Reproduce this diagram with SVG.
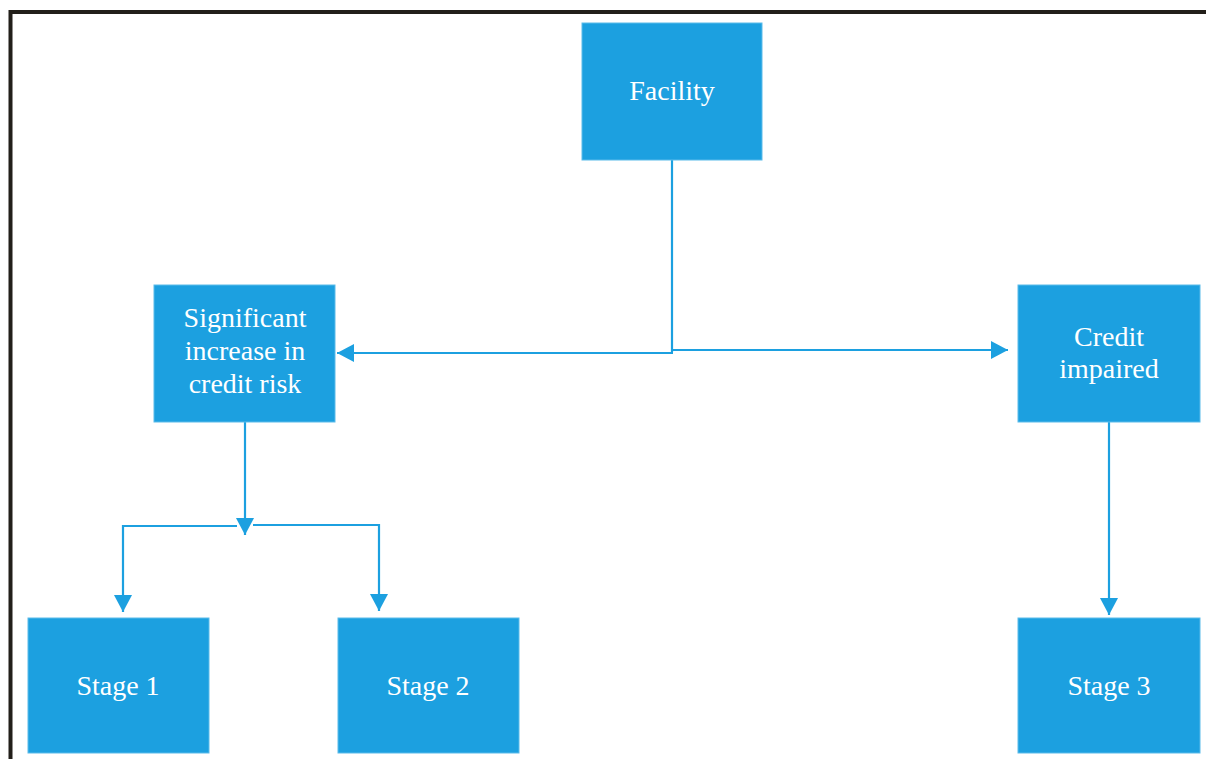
<svg xmlns="http://www.w3.org/2000/svg" width="1206" height="759" viewBox="0 0 1206 759">
<style>
.box{fill:#1ca0e0;stroke:#5bbbea;stroke-width:1}
.lbl{font-family:"Liberation Serif","Times New Roman",serif;font-size:28px;fill:#ffffff;text-anchor:middle}
.con{fill:none;stroke:#1ca0e0;stroke-width:2.2}
</style>
<defs>
<marker id="arr" markerUnits="userSpaceOnUse" markerWidth="18" markerHeight="18" refX="17" refY="9" orient="auto" viewBox="0 0 18 18">
<path d="M0,0 L17,9 L0,18 z" fill="#1ca0e0"/>
</marker>
</defs>
<rect width="1206" height="759" fill="#ffffff"/>
<path d="M10.5,759 V12 H1206" fill="none" stroke="#221f1a" stroke-width="4"/>
<g id="connectors">
<path class="con" d="M672,160 V352"/>
<path class="con" d="M673,353 H337" marker-end="url(#arr)"/>
<path class="con" d="M672,350 H1008" marker-end="url(#arr)"/>
<path class="con" d="M245,422 V535" marker-end="url(#arr)"/>
<path class="con" d="M237,526 H123 V612" marker-end="url(#arr)"/>
<path class="con" d="M253,525 H379 V611" marker-end="url(#arr)"/>
<path class="con" d="M1109,422 V615" marker-end="url(#arr)"/>
</g>
<g id="facility">
<rect class="box" x="582" y="23" width="180" height="137"/>
<text class="lbl" x="672" y="100">Facility</text>
</g>
<g id="sicr">
<rect class="box" x="154" y="285" width="181" height="137"/>
<text class="lbl" x="245" y="327">Significant</text>
<text class="lbl" x="245" y="360">increase in</text>
<text class="lbl" x="245" y="393">credit risk</text>
</g>
<g id="credit-impaired">
<rect class="box" x="1018" y="285" width="182" height="137"/>
<text class="lbl" x="1109" y="346">Credit</text>
<text class="lbl" x="1109" y="378">impaired</text>
</g>
<g id="stage1">
<rect class="box" x="28" y="618" width="181" height="135"/>
<text class="lbl" x="118" y="695">Stage 1</text>
</g>
<g id="stage2">
<rect class="box" x="338" y="618" width="181" height="135"/>
<text class="lbl" x="428" y="695">Stage 2</text>
</g>
<g id="stage3">
<rect class="box" x="1018" y="618" width="182" height="135"/>
<text class="lbl" x="1109" y="695">Stage 3</text>
</g>
</svg>
